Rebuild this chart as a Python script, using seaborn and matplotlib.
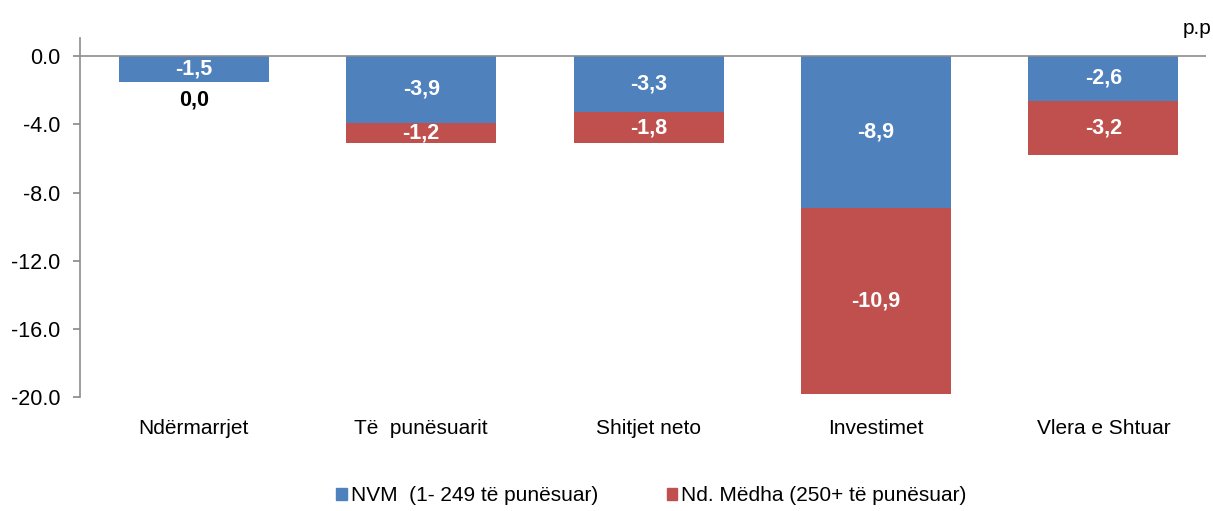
import numpy as np
import pandas as pd
import matplotlib
matplotlib.use("Agg")
import matplotlib.pyplot as plt
import seaborn as sns
from matplotlib.patches import Patch

# Te dhenat e grafikut
categories = ["Ndërmarrjet", "Të  punësuarit", "Shitjet neto", "Investimet", "Vlera e Shtuar"]
nvm_values = [-1.5, -3.9, -3.3, -8.9, -2.6]
medha_values = [0.0, -1.2, -1.8, -10.9, -3.2]
yticks = [0.0, -4.0, -8.0, -12.0, -16.0, -20.0]

blue = "#4F81BD"
red = "#C0504D"

sns.set_theme(style="white")
plt.rcParams["font.family"] = ["Liberation Sans", "DejaVu Sans"]
plt.rcParams["text.color"] = "black"
plt.rcParams["xtick.color"] = "black"
plt.rcParams["ytick.color"] = "black"

df = pd.DataFrame({"cat": categories, "nvm": nvm_values, "medha": medha_values})
df["total"] = df["nvm"] + df["medha"]

fig, ax = plt.subplots(figsize=(12.13, 5.11), dpi=100)
fig.subplots_adjust(left=0.066, right=0.994, top=0.925, bottom=0.223)

# stacked: totali (e kuqe) poshte, NVM (blu) siper
sns.barplot(data=df, x="cat", y="total", color=red, width=0.66, saturation=1, linewidth=0, ax=ax)
sns.barplot(data=df, x="cat", y="nvm", color=blue, width=0.66, saturation=1, linewidth=0, ax=ax)

for i, row in df.iterrows():
    ax.text(i, row["nvm"] / 2, f"{row['nvm']:.1f}".replace(".", ","), ha="center", va="center",
            color="white", fontsize=15.5, fontweight="bold")
    if row["medha"] == 0:
        ax.text(i, row["nvm"] - 1.05, "0,0", ha="center", va="center",
                color="black", fontsize=15.5, fontweight="bold")
    else:
        ax.text(i, row["nvm"] + row["medha"] / 2, f"{row['medha']:.1f}".replace(".", ","),
                ha="center", va="center", color="white", fontsize=15.5, fontweight="bold")

ax.set_ylim(-20, 1.05)
ax.set_xlim(-0.5, 4.45)
ax.set_yticks(yticks)
ax.set_yticklabels([f"{v:.1f}" for v in yticks], fontsize=15.5)
ax.set_xticklabels(categories, fontsize=15)
ax.set_xlabel("")
ax.set_ylabel("")
ax.axhline(0, color="#8c8c8c", lw=1.2, zorder=3)

for s in ["top", "right", "bottom"]:
    ax.spines[s].set_visible(False)
ax.spines["left"].set_color("#8c8c8c")
ax.spines["left"].set_linewidth(1.2)
ax.tick_params(axis="y", left=True, length=5, color="#8c8c8c", pad=9)
ax.tick_params(axis="x", bottom=False, pad=10)

ax.text(1.005, 1.0, "p.p", transform=ax.transAxes, ha="right", va="bottom", fontsize=15)

handles = [Patch(color=blue, label="NVM  (1- 249 të punësuar)"),
           Patch(color=red, label="Nd. Mëdha (250+ të punësuar)")]
fig.legend(handles=handles, loc="lower center", ncol=2, frameon=False, fontsize=15,
           bbox_to_anchor=(0.537, -0.025), handlelength=0.5, handleheight=0.5,
           handletextpad=0.2, columnspacing=3.3)

plt.savefig("out.png", dpi=100)
plt.close()
